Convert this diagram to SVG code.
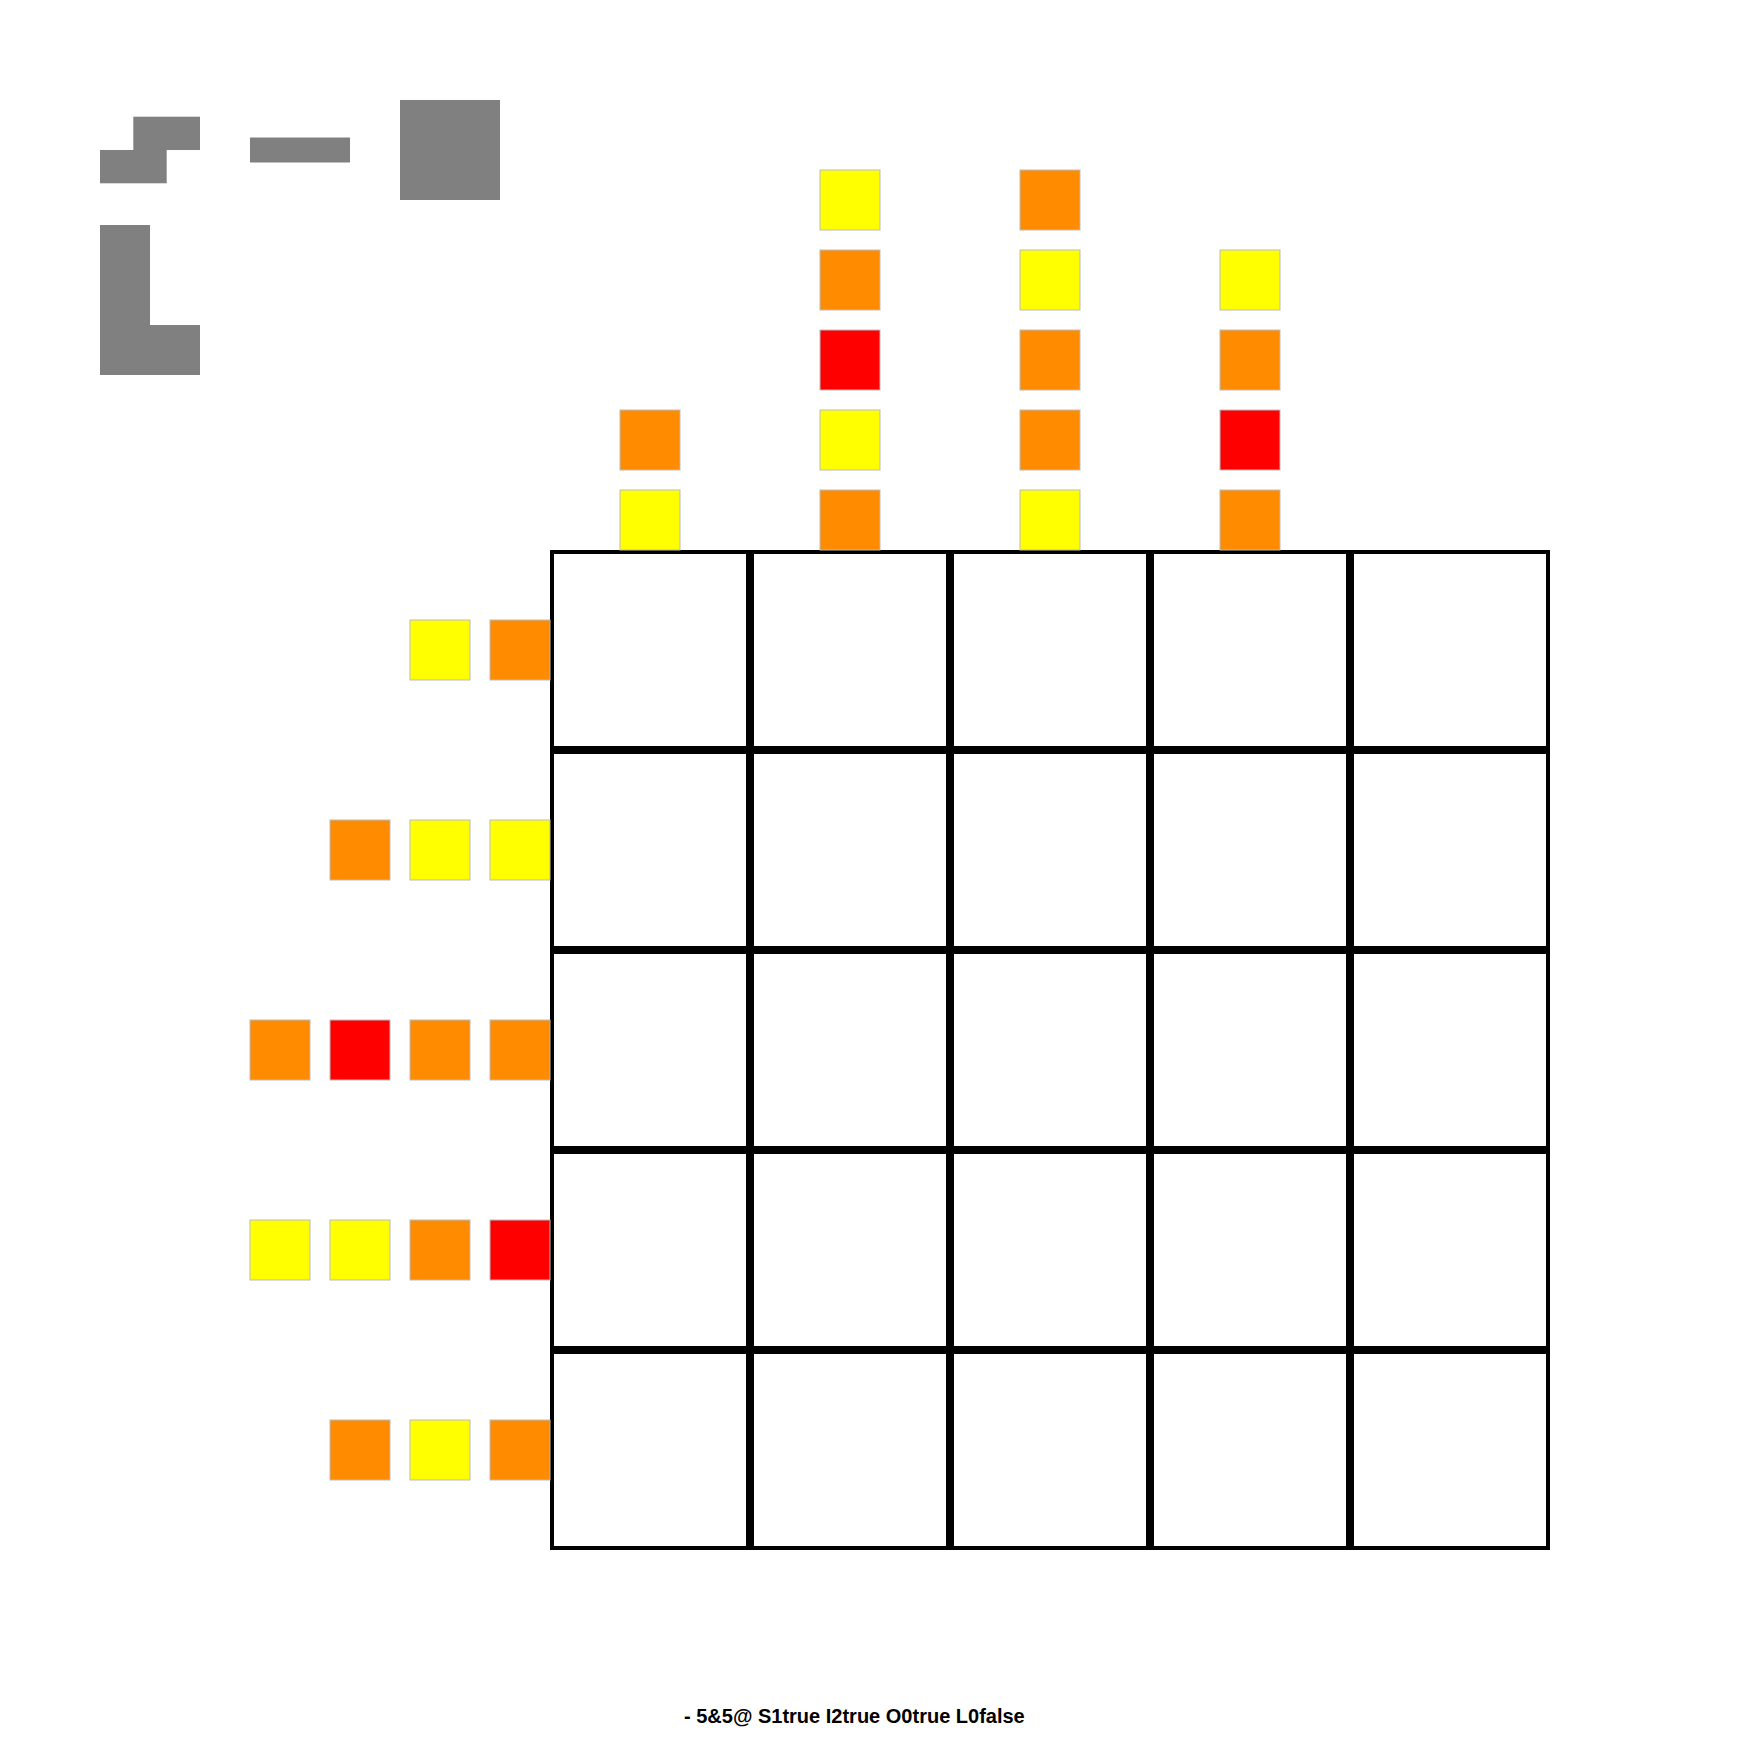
<svg xmlns="http://www.w3.org/2000/svg" width="1740" height="1740" viewBox="0 0 1740 1740">
<style>
.g{fill:#808080}
.c{fill:#fff;stroke:#000;stroke-width:4}
.y{fill:#ffff00;stroke:#bbbbbb;stroke-width:1}
.o{fill:#ff8c00;stroke:#bbbbbb;stroke-width:1}
.r{fill:#ff0000;stroke:#bbbbbb;stroke-width:1}
.t{font-family:"Liberation Sans",Arial,sans-serif;font-weight:bold;font-size:20px;fill:#000}
</style>
<rect width="1740" height="1740" fill="#fff"/>
<g id="pieces">
<g id="piece-s"><rect class="g" x="133.3" y="116.7" width="66.7" height="33.3"/><rect class="g" x="100" y="150" width="66.7" height="33.3"/></g>
<g id="piece-i"><rect class="g" x="250" y="137.5" width="100" height="25"/></g>
<g id="piece-o"><rect class="g" x="400" y="100" width="100" height="100"/></g>
<g id="piece-l"><rect class="g" x="100" y="225" width="50" height="150"/><rect class="g" x="150" y="325" width="50" height="50"/></g>
</g>
<g id="grid">
<rect class="c" x="552" y="552" width="196" height="196"/><rect class="c" x="752" y="552" width="196" height="196"/><rect class="c" x="952" y="552" width="196" height="196"/><rect class="c" x="1152" y="552" width="196" height="196"/><rect class="c" x="1352" y="552" width="196" height="196"/>
<rect class="c" x="552" y="752" width="196" height="196"/><rect class="c" x="752" y="752" width="196" height="196"/><rect class="c" x="952" y="752" width="196" height="196"/><rect class="c" x="1152" y="752" width="196" height="196"/><rect class="c" x="1352" y="752" width="196" height="196"/>
<rect class="c" x="552" y="952" width="196" height="196"/><rect class="c" x="752" y="952" width="196" height="196"/><rect class="c" x="952" y="952" width="196" height="196"/><rect class="c" x="1152" y="952" width="196" height="196"/><rect class="c" x="1352" y="952" width="196" height="196"/>
<rect class="c" x="552" y="1152" width="196" height="196"/><rect class="c" x="752" y="1152" width="196" height="196"/><rect class="c" x="952" y="1152" width="196" height="196"/><rect class="c" x="1152" y="1152" width="196" height="196"/><rect class="c" x="1352" y="1152" width="196" height="196"/>
<rect class="c" x="552" y="1352" width="196" height="196"/><rect class="c" x="752" y="1352" width="196" height="196"/><rect class="c" x="952" y="1352" width="196" height="196"/><rect class="c" x="1152" y="1352" width="196" height="196"/><rect class="c" x="1352" y="1352" width="196" height="196"/>
</g>
<g id="column-clues">
<rect class="y" x="620" y="490" width="60" height="60"/><rect class="o" x="620" y="410" width="60" height="60"/>
<rect class="o" x="820" y="490" width="60" height="60"/><rect class="y" x="820" y="410" width="60" height="60"/><rect class="r" x="820" y="330" width="60" height="60"/><rect class="o" x="820" y="250" width="60" height="60"/><rect class="y" x="820" y="170" width="60" height="60"/>
<rect class="y" x="1020" y="490" width="60" height="60"/><rect class="o" x="1020" y="410" width="60" height="60"/><rect class="o" x="1020" y="330" width="60" height="60"/><rect class="y" x="1020" y="250" width="60" height="60"/><rect class="o" x="1020" y="170" width="60" height="60"/>
<rect class="o" x="1220" y="490" width="60" height="60"/><rect class="r" x="1220" y="410" width="60" height="60"/><rect class="o" x="1220" y="330" width="60" height="60"/><rect class="y" x="1220" y="250" width="60" height="60"/>
</g>
<g id="row-clues">
<rect class="o" x="490" y="620" width="60" height="60"/><rect class="y" x="410" y="620" width="60" height="60"/>
<rect class="y" x="490" y="820" width="60" height="60"/><rect class="y" x="410" y="820" width="60" height="60"/><rect class="o" x="330" y="820" width="60" height="60"/>
<rect class="o" x="490" y="1020" width="60" height="60"/><rect class="o" x="410" y="1020" width="60" height="60"/><rect class="r" x="330" y="1020" width="60" height="60"/><rect class="o" x="250" y="1020" width="60" height="60"/>
<rect class="r" x="490" y="1220" width="60" height="60"/><rect class="o" x="410" y="1220" width="60" height="60"/><rect class="y" x="330" y="1220" width="60" height="60"/><rect class="y" x="250" y="1220" width="60" height="60"/>
<rect class="o" x="490" y="1420" width="60" height="60"/><rect class="y" x="410" y="1420" width="60" height="60"/><rect class="o" x="330" y="1420" width="60" height="60"/>
</g>
<g id="connectors"/>
<text class="t" x="684" y="1723">- 5&amp;5@ S1true I2true O0true L0false</text>
</svg>
